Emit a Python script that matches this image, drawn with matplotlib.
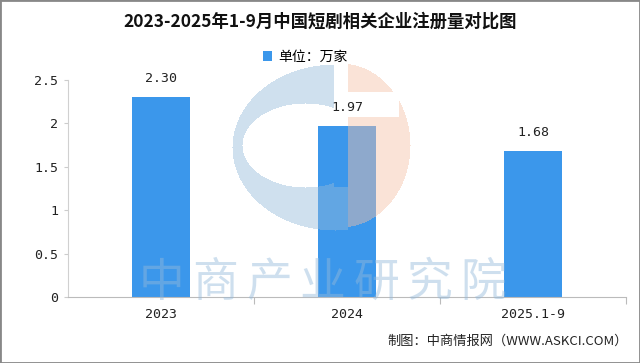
import numpy as np
import matplotlib
matplotlib.use('Agg')
import matplotlib.pyplot as plt
from matplotlib.patches import Rectangle

plt.rcParams['font.family'] = ['Noto Sans CJK SC', 'DejaVu Sans']

# Data
categories = ['2023', '2024', '2025.1-9']
values = [2.30, 1.97, 1.68]
value_labels = ['2.30', '1.97', '1.68']
yticks = [0, 0.5, 1, 1.5, 2, 2.5]
ytick_labels = ['0', '0.5', '1', '1.5', '2', '2.5']

title = '2023-2025年1-9月中国短剧相关企业注册量对比图'
legend_label = '单位：万家'
source = '制图：中商情报网（WWW.ASKCI.COM）'
watermark = '中商产业研究院'

W, H = 640, 363
fig = plt.figure(figsize=(W / 100, H / 100), dpi=100)
ax = fig.add_axes([68 / W, 1 - 297 / H, 558 / W, 217 / H])

bar_color = '#3b97eb'
x = np.arange(len(categories))
bars = ax.bar(x, values, width=0.31, color=bar_color, label=legend_label, zorder=2)

for xi, v, lab in zip(x, values, value_labels):
    ax.annotate(lab, (xi, v), xytext=(0, 9), textcoords='offset points',
                ha='center', va='bottom', fontsize=9.5, family='DejaVu Sans Mono', color='#222222')

ax.set_xlim(-0.5, len(categories) - 0.5)
ax.set_ylim(0, 2.5)
ax.set_yticks(yticks)
ax.set_yticklabels(ytick_labels, family='DejaVu Sans Mono', fontsize=9.5, color='#222222')
ax.set_xticks(x)
ax.set_xticklabels(categories, family='DejaVu Sans Mono', fontsize=9.5, color='#222222')
ax.set_xticks(np.arange(len(categories)) + 0.5, minor=True)
ax.tick_params(axis='x', which='major', length=0, pad=8)
ax.tick_params(axis='x', which='minor', length=5, color='#bbbbbb', width=0.8)
ax.tick_params(axis='y', length=3, color='#cccccc', width=0.8, pad=4)

for s in ['top', 'right']:
    ax.spines[s].set_visible(False)
ax.spines['left'].set_color('#d0d0d0')
ax.spines['left'].set_linewidth(0.8)
ax.spines['bottom'].set_color('#bbbbbb')
ax.spines['bottom'].set_linewidth(0.8)

leg = fig.legend(handles=[bars], labels=[legend_label], loc='center',
                 bbox_to_anchor=(305 / W, 1 - 57 / H), frameon=False,
                 fontsize=10, handlelength=0.7, handleheight=0.7, handletextpad=0.4)

fig.text(0.5, 1 - 22 / H, title, ha='center', va='center', fontsize=12.5, fontweight='bold', color='#111111')
fig.text(628 / W, 1 - 341 / H, source, ha='right', va='center', fontsize=9.5, color='#222222')

# logo watermark
yy, xx = np.mgrid[0:H, 0:W]
rgba = np.zeros((H, W, 4))
outer_b = ((xx - 335) / 103.0) ** 2 + ((yy - 147) / 83.0) ** 2 <= 1
inner_b = ((xx - 305) / 63.0) ** 2 + ((yy - 145) / 42.0) ** 2 <= 1
blue_mask = outer_b & ~inner_b & ((xx <= 333) | ((yy >= 187) & (xx <= 347)))
outer_o = ((xx - 340) / 70.0) ** 2 + ((yy - 145) / 82.0) ** 2 <= 1
notch = (yy >= 92) & (yy <= 116) & (xx <= 398)
orange_mask = outer_o & (xx >= 348) & ~notch
rgba[blue_mask] = [148 / 255, 186 / 255, 219 / 255, 0.45]
rgba[orange_mask] = [246 / 255, 193 / 255, 166 / 255, 0.45]
fig.figimage(rgba, xo=0, yo=0, origin='upper', zorder=3)

for i, ch in enumerate(watermark):
    fig.text((162 + i * 53.5) / W, 1 - 283 / H, ch, ha='center', va='center',
             fontsize=33, color=(148 / 255, 186 / 255, 219 / 255), alpha=0.45, zorder=4)

fig.patches.append(Rectangle((0, 0), 1, 1, transform=fig.transFigure, fill=False,
                             edgecolor='#888888', linewidth=2, zorder=5))

fig.savefig('out.png', dpi=100)
